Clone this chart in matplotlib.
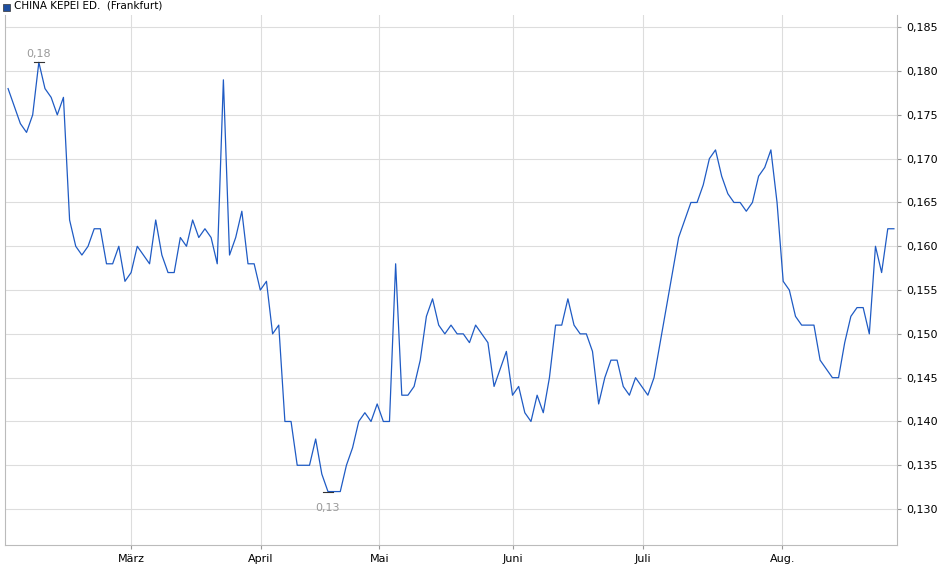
import numpy as np
import matplotlib
matplotlib.use("Agg")
import matplotlib.pyplot as plt
from matplotlib.ticker import FuncFormatter

values = [0.178,0.176,0.174,0.173,0.175,0.181,0.178,0.177,0.175,0.177,0.163,0.160,0.159,0.160,0.162,0.162,0.158,0.158,0.160,0.156,
0.157,0.160,0.159,0.158,0.163,0.159,0.157,0.157,0.161,0.160,0.163,0.161,0.162,0.161,0.158,0.179,0.159,0.161,0.164,0.158,
0.158,0.155,0.156,0.150,0.151,0.140,0.140,0.135,0.135,0.135,0.138,0.134,0.132,0.132,0.132,0.135,0.137,0.140,0.141,0.140,
0.142,0.140,0.140,0.158,0.143,0.143,0.144,0.147,0.152,0.154,0.151,0.150,0.151,0.150,0.150,0.149,0.151,0.150,0.149,0.144,
0.146,0.148,0.143,0.144,0.141,0.140,0.143,0.141,0.145,0.151,0.151,0.154,0.151,0.150,0.150,0.148,0.142,0.145,0.147,0.147,
0.144,0.143,0.145,0.144,0.143,0.145,0.149,0.153,0.157,0.161,0.163,0.165,0.165,0.167,0.170,0.171,0.168,0.166,0.165,0.165,
0.164,0.165,0.168,0.169,0.171,0.165,0.156,0.155,0.152,0.151,0.151,0.151,0.147,0.146,0.145,0.145,0.149,0.152,0.153,0.153,
0.150,0.160,0.157,0.162,0.162]
month_labels = ["März", "April", "Mai", "Juni", "Juli", "Aug."]
month_frac = [0.1393, 0.2854, 0.4191, 0.5697, 0.7169, 0.8742]
yticks = [0.130,0.135,0.140,0.145,0.150,0.155,0.160,0.165,0.170,0.175,0.180,0.185]

n = len(values)
x = np.arange(n)
fig = plt.figure(figsize=(9.4,5.79), dpi=100)
ax = fig.add_axes([5/940, 34/579, 892/940, 530/579])
ax.plot(x, values, color="#1f5bc4", lw=0.9)
ax.set_xlim(-0.5, n-0.5)
ax.set_ylim(0.1259, 0.1864)
ax.set_xticks([f*(n-1) for f in month_frac])
ax.set_xticklabels(month_labels)
ax.set_yticks(yticks)
ax.yaxis.tick_right()
ax.yaxis.set_major_formatter(FuncFormatter(lambda v,p: f"{v:.3f}".replace(".",",")))
ax.tick_params(labelsize=8, length=3, color="#999999")
ax.grid(True, color="#dddddd", lw=0.8)
for s in ax.spines.values():
    s.set_color("#bbbbbb")
ax.spines['top'].set_visible(False)

imax = int(np.argmax(values)); imin = int(np.argmin(values))
for i, lbl, dy in [(imax, "0,18", 6), (imin, "0,13", -12)]:
    ax.plot([i-0.8, i+0.8], [values[i]]*2, color="#333333", lw=0.8)
    ax.annotate(lbl, (i, values[i]), xytext=(0, dy), textcoords="offset points",
                ha="center", va="center", fontsize=8, color="#999999")

fig.patches.append(plt.Rectangle((3/940, 1-11/579), 7/940, 7/579, transform=fig.transFigure,
                                 facecolor="#1f4fa0", edgecolor="#333333", lw=0.5))
fig.text(14/940, 1-6/579, "CHINA KEPEI ED.  (Frankfurt)", fontsize=7.5, va="center")
fig.savefig("out.png", dpi=100)
